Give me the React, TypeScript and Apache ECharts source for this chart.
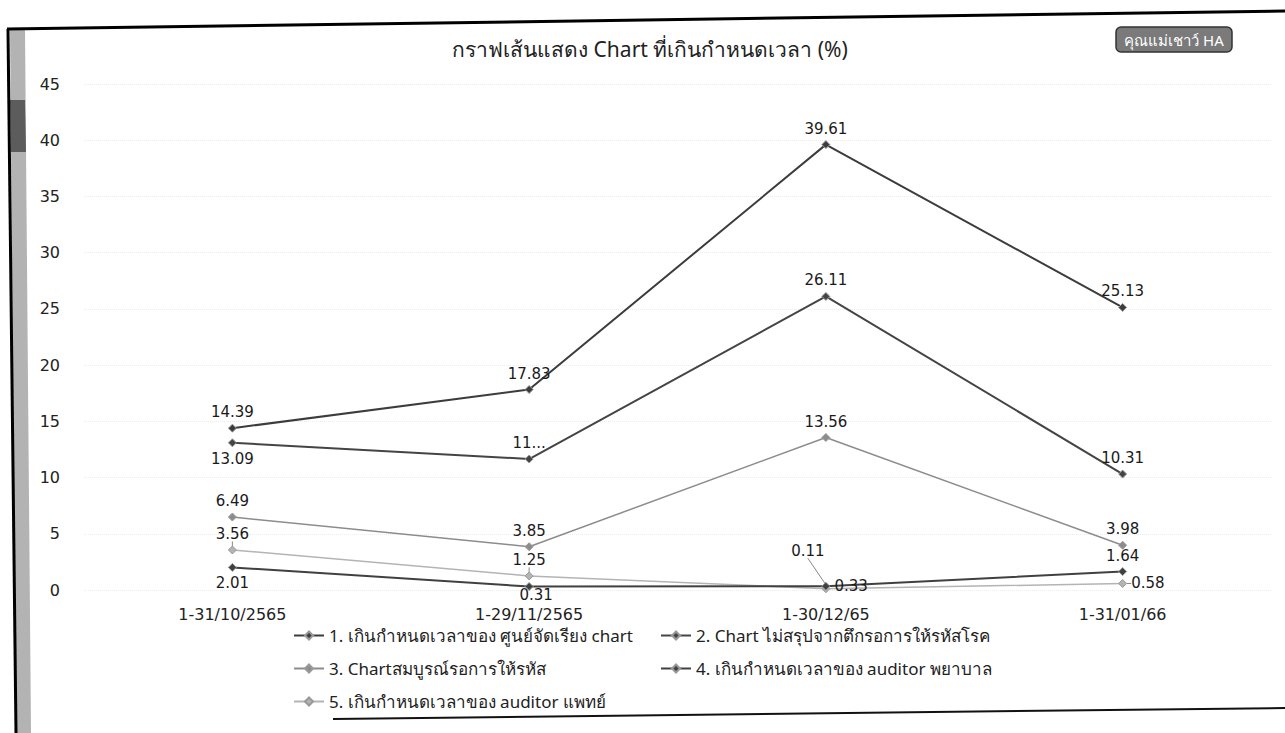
import React, { useEffect, useRef } from "react";
import * as echarts from "echarts";

const title = "กราฟเส้นแสดง Chart ที่เกินกำหนดเวลา (%)";
const badgeText = "คุณแม่เชาว์ HA";
const categories = ["1-31/10/2565", "1-29/11/2565", "1-30/12/65", "1-31/01/66"];
const seriesNames = [
  "1. เกินกำหนดเวลาของ ศูนย์จัดเรียง chart",
  "2. Chart ไม่สรุปจากตึกรอการให้รหัสโรค",
  "3. Chartสมบูรณ์รอการให้รหัส",
  "4. เกินกำหนดเวลาของ auditor พยาบาล",
  "5. เกินกำหนดเวลาของ auditor แพทย์",
];
const s1 = [14.39, 17.83, 39.61, 25.13];
const s2 = [13.09, 11.65, 26.11, 10.31];
const s3 = [6.49, 3.85, 13.56, 3.98];
const s4 = [2.01, 0.31, 0.33, 1.64];
const s5 = [3.56, 1.25, 0.11, 0.58];
const seriesValues = [s1, s2, s3, s4, s5];
// label text overrides (truncated in original)
const labelText: (string | null)[][] = [
  [null, null, null, null],
  [null, "11...", null, null],
  [null, null, null, null],
  [null, null, null, null],
  [null, null, null, null],
];
const labelPos: string[][] = [
  ["top", "top", "top", "top"],
  ["bottom", "top", "top", "top"],
  ["top", "top", "top", "top"],
  ["bottom", "inside", "right", "top"],
  ["top", "top", "top", "right"],
];
const colors = ["#3c3c3c", "#444444", "#8c8c8c", "#404040", "#b4b4b4"];
const yTicks = [0, 5, 10, 15, 20, 25, 30, 35, 40, 45];

export default function App() {
  const ref = useRef<HTMLDivElement>(null);
  useEffect(() => {
    if (!ref.current) return;
    const chart = echarts.init(ref.current, undefined, { renderer: "svg" });
    const font = "'DejaVu Sans', Verdana, sans-serif";
    const thaiFont = "'Noto Sans', 'DejaVu Sans', sans-serif";
    const series = seriesValues.map((vals, si) => ({
      name: seriesNames[si],
      type: "line",
      data: vals.map((v, i) => {
        const lbl: any = { position: labelPos[si][i] };
        if (labelText[si][i]) lbl.formatter = labelText[si][i];
        if (si === 3 && i === 1) lbl.offset = [7, 8];
        return { value: v, label: lbl };
      }),
      symbol: "diamond",
      symbolSize: 8,
      lineStyle: { color: colors[si], width: si === 2 || si === 4 ? 1.5 : 2 },
      itemStyle: { color: colors[si], borderColor: "#999", borderWidth: 1 },
      label: {
        show: true,
        color: "#1a1a1a",
        fontFamily: font,
        fontSize: 15,
        distance: 4,
      },
      labelLayout:
        si === 4
          ? (p: any) => (p.dataIndex === 2 ? { dx: -18, dy: -22 } : {})
          : undefined,
      labelLine: si === 4 ? { show: true, lineStyle: { color: "#888", width: 1 } } : undefined,
      z: 5 - si,
    }));

    const legendBase = {
      orient: "vertical",
      itemWidth: 30,
      itemHeight: 10,
      itemGap: 16,
      textStyle: { fontSize: 17, color: "#222", fontFamily: thaiFont },
    };

    chart.setOption({
      animation: false,
      backgroundColor: "#ffffff",
      color: colors,
      title: {
        text: title,
        left: 645,
        textAlign: "center",
        top: 33,
        textStyle: { fontSize: 21, fontWeight: "normal", color: "#222", fontFamily: thaiFont },
      },
      legend: [
        { ...legendBase, left: 288, top: 622, data: [seriesNames[0], seriesNames[2], seriesNames[4]] },
        { ...legendBase, left: 655, top: 622, data: [seriesNames[1], seriesNames[3]] },
      ],
      grid: { left: 84, right: 14, top: 84, bottom: 143, containLabel: false },
      xAxis: {
        type: "category",
        data: categories,
        boundaryGap: true,
        axisLine: { show: false },
        axisTick: { show: false },
        axisLabel: { fontSize: 16, color: "#222", fontFamily: font, margin: 16 },
      },
      yAxis: {
        type: "value",
        min: 0,
        max: 45,
        interval: 5,
        axisLine: { show: false },
        axisTick: { show: false },
        axisLabel: {
          fontSize: 16,
          color: "#222",
          fontFamily: font,
          margin: 24,
          formatter: (v: number) => (yTicks.includes(v) ? String(v) : ""),
        },
        splitLine: { show: true, lineStyle: { color: "#ececec", type: "dotted" } },
      },
      graphic: [
        { type: "polygon", shape: { points: [[10, 30], [25, 30], [31, 733], [16, 733]] }, style: { fill: "#b3b3b3" }, z: 100 },
        { type: "polygon", shape: { points: [[10, 100], [25, 100], [26, 152], [11, 152]] }, style: { fill: "#5c5c5c" }, z: 101 },
        { type: "line", shape: { x1: 8, y1: 29, x2: 16, y2: 733 }, style: { stroke: "#000", lineWidth: 3 }, z: 102 },
        { type: "line", shape: { x1: 7, y1: 29, x2: 1285, y2: 11 }, style: { stroke: "#000", lineWidth: 3 }, z: 102 },
        { type: "line", shape: { x1: 333, y1: 719, x2: 1285, y2: 708 }, style: { stroke: "#111", lineWidth: 2 }, z: 102 },
        {
          type: "rect",
          shape: { x: 1116, y: 27, width: 116, height: 25, r: 5 },
          style: { fill: "#7a7a7a", stroke: "#333", lineWidth: 1.5 },
          z: 102,
        },
        {
          type: "text",
          x: 1174,
          y: 40,
          style: {
            text: badgeText,
            fill: "#ffffff",
            fontSize: 15,
            fontFamily: thaiFont,
            align: "center",
            verticalAlign: "middle",
          },
          z: 103,
        },
      ],
      series,
    });
    return () => chart.dispose();
  }, []);
  return <div ref={ref} style={{ width: 1285, height: 733, position: "absolute", left: 0, top: 0 }} />;
}
